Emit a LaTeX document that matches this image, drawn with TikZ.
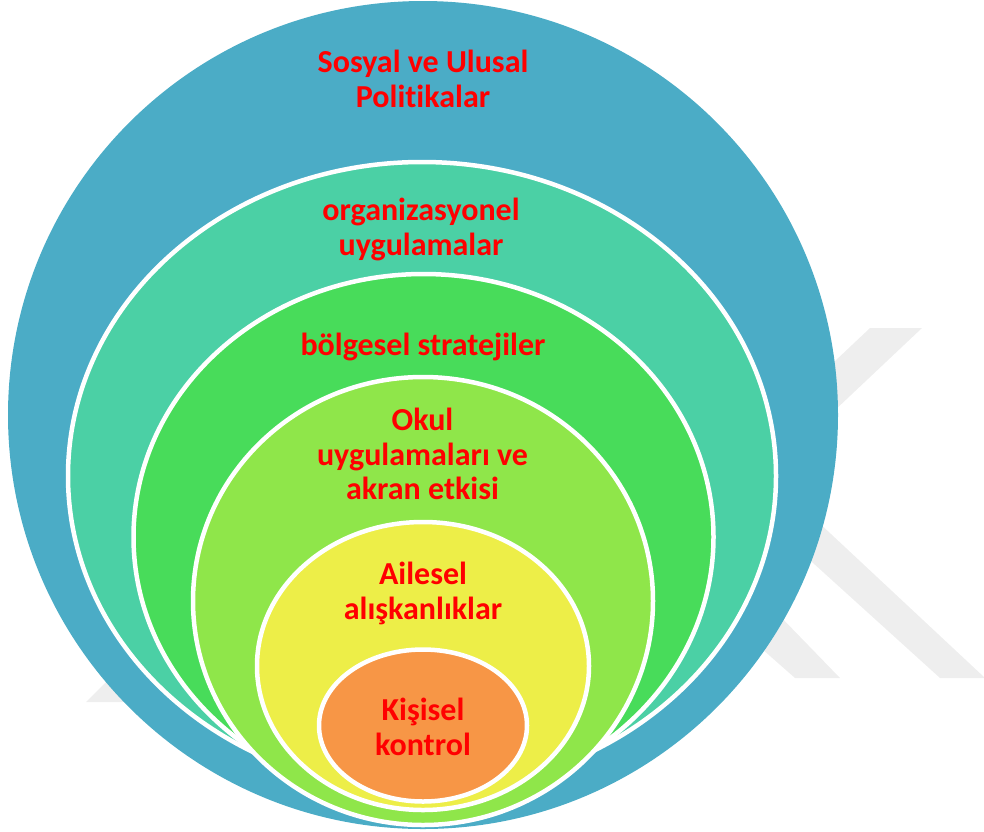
\documentclass[tikz,border=0pt]{standalone}
\usepackage{fontspec}
\setmainfont{Carlito}[RawFeature={-liga}]
\definecolor{ringblue}{HTML}{4BACC6}
\definecolor{ringteal}{HTML}{4BD0A5}
\definecolor{ringgreen}{HTML}{48DC5A}
\definecolor{ringlime}{HTML}{8FE64A}
\definecolor{ringyellow}{HTML}{EDEE48}
\definecolor{ringorange}{HTML}{F79646}
\definecolor{wmgray}{HTML}{EEEEEE}
\begin{document}
\begin{tikzpicture}[x=1pt,y=-1pt,
  lbl/.style={text=red, align=center, inner sep=0pt,
    font=\bfseries\fontsize{32}{34.5}\selectfont}]
\useasboundingbox (0,0) rectangle (984,831);
% faint watermark behind the rings
\fill[wmgray] (870,328) -- (922,328) -- (780,462) -- (728,462) -- cycle;
\fill[wmgray] (770,477) -- (984,677) -- (984,678) -- (940,678) -- (770,524) -- cycle;
\fill[wmgray] (745,580) -- (840,678) -- (795,678) -- (720,612) -- cycle;
\fill[wmgray] (86,702) -- (110,678) -- (160,678) -- (160,702) -- cycle;
% nested rings, outer first
\fill[ringblue] (423,415) ellipse [x radius=415, y radius=414];
\foreach \cx/\cy/\rx/\ry/\col in {422/476/354/314/ringteal,
    423.5/537/290/263/ringgreen, 423/601/230/224/ringlime,
    423/666/166/144/ringyellow, 423/725.5/104/76/ringorange} {
  \filldraw[fill=\col, draw=white, line width=4.5pt]
    (\cx,\cy) ellipse [x radius=\rx, y radius=\ry];
}
\node[lbl] (sosyal) at (423,79) {Sosyal ve Ulusal\\Politikalar};
\node[lbl] (organ) at (421,229.5) {organizasyonel\\uygulamalar};
\node[lbl] (bolge) at (423,346.5) {bölgesel stratejiler};
\node[lbl] (okul) at (422.5,454) {Okul\\uygulamaları ve\\akran etkisi};
\node[lbl] (aile) at (423,593.5) {Ailesel\\alışkanlıklar};
\node[lbl] (kisi) at (423,727) {Kişisel\\kontrol};
\end{tikzpicture}
\end{document}
